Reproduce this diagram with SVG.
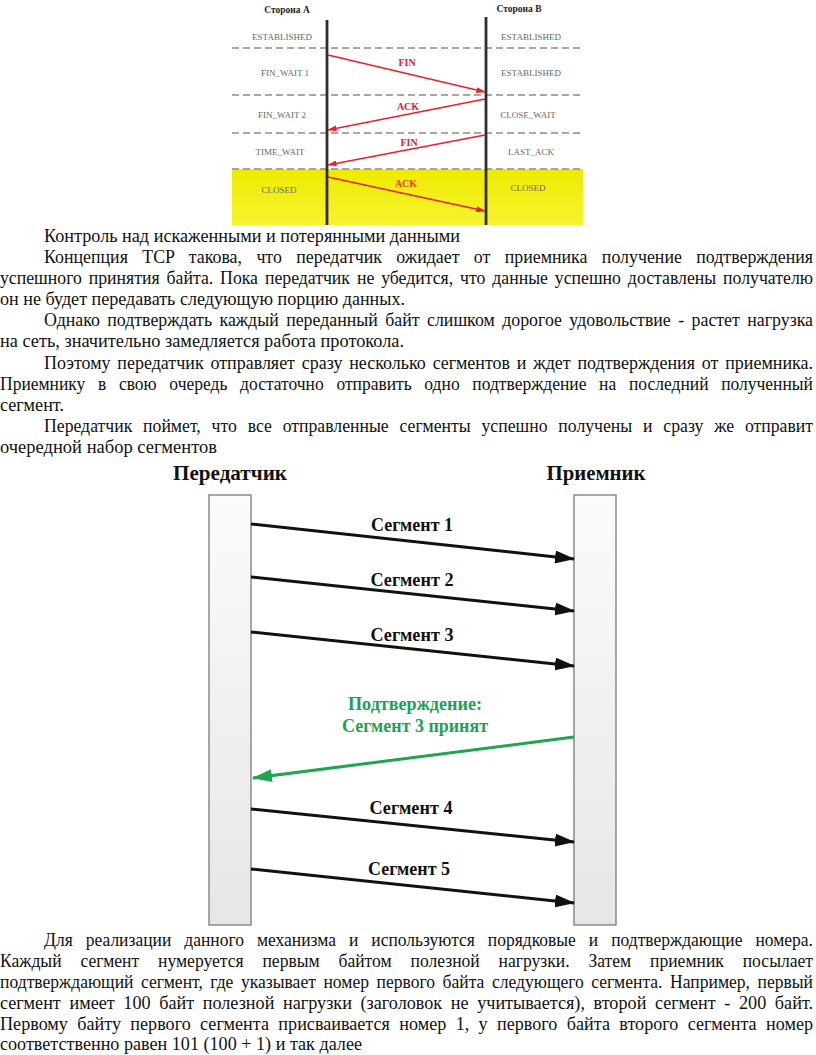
<svg xmlns="http://www.w3.org/2000/svg" width="816" height="1055" viewBox="0 0 816 1055">
<style>
.p{font-family:"Liberation Serif","Times New Roman",serif;font-size:18px;fill:#111}
.st{font-family:"Liberation Serif",serif;font-size:9px;fill:#666;text-anchor:middle}
.hd{font-family:"Liberation Serif",serif;font-size:9.5px;font-weight:bold;fill:#222;text-anchor:middle}
.rl{font-family:"Liberation Serif",serif;font-size:10px;font-weight:bold;fill:#e3202a;text-anchor:middle}
.dash{stroke:#8a8a8a;stroke-width:1.5;stroke-dasharray:7 4;fill:none}
.life{stroke:#2e2e2e;stroke-width:2.8}
.red{stroke:#e8202a;stroke-width:1.6;fill:none}
.ttl{font-family:"Liberation Serif",serif;font-size:21px;font-weight:bold;fill:#111;text-anchor:middle}
.seg{font-family:"Liberation Serif",serif;font-size:18px;font-weight:bold;fill:#111;text-anchor:middle}
.grt{font-family:"Liberation Serif",serif;font-size:18px;font-weight:bold;fill:#22a052;text-anchor:middle}
.blk{stroke:#111;stroke-width:3;fill:none}
.grn{stroke:#1fa64f;stroke-width:3;fill:none}
.box{fill:url(#boxg);stroke:#7a7a7a;stroke-width:1.3}
</style>
<defs>
<linearGradient id="boxg" x1="0" y1="0" x2="0" y2="1">
<stop offset="0" stop-color="#fbfbfb"/>
<stop offset="1" stop-color="#e6e6e6"/>
</linearGradient>
<linearGradient id="yel" x1="0" y1="0" x2="0" y2="1">
<stop offset="0" stop-color="#eeea00"/>
<stop offset="1" stop-color="#f6f330"/>
</linearGradient>
<marker id="ab" markerUnits="userSpaceOnUse" markerWidth="20" markerHeight="13" refX="19" refY="6.5" orient="auto">
<path d="M0,0 L20,6.5 L0,13 z" fill="#111"/>
</marker>
<marker id="ag" markerUnits="userSpaceOnUse" markerWidth="20" markerHeight="13" refX="19" refY="6.5" orient="auto">
<path d="M0,0 L20,6.5 L0,13 z" fill="#1fa64f"/>
</marker>
<marker id="ar" markerUnits="userSpaceOnUse" markerWidth="9" markerHeight="6" refX="8.5" refY="3" orient="auto">
<path d="M0,0 L9,3 L0,6 z" fill="#e8202a"/>
</marker>
</defs>
<rect width="816" height="1055" fill="#fff"/>

<!-- Top diagram: TCP connection termination -->
<g id="top-diagram">
<rect id="closed-zone" x="232" y="169" width="351" height="56" fill="url(#yel)"/>
<g id="dividers">
<line class="dash" x1="232" y1="48" x2="583" y2="48"/>
<line class="dash" x1="232" y1="95" x2="583" y2="95"/>
<line class="dash" x1="232" y1="133" x2="583" y2="133"/>
<line class="dash" x1="232" y1="169" x2="583" y2="169"/>
</g>
<g id="side-a">
<text class="hd" x="287" y="13">Сторона А</text>
<line class="life" x1="327" y1="20" x2="327" y2="225"/>
<text class="st" x="282" y="40">ESTABLISHED</text>
<text class="st" x="285" y="76">FIN_WAIT 1</text>
<text class="st" x="282" y="118">FIN_WAIT 2</text>
<text class="st" x="280" y="155">TIME_WAIT</text>
<text class="st" x="279" y="193">CLOSED</text>
</g>
<g id="side-b">
<text class="hd" x="519" y="12">Сторона В</text>
<line class="life" x1="486" y1="17" x2="486" y2="225"/>
<text class="st" x="531" y="40">ESTABLISHED</text>
<text class="st" x="531" y="76">ESTABLISHED</text>
<text class="st" x="528" y="118">CLOSE_WAIT</text>
<text class="st" x="531" y="155">LAST_ACK</text>
<text class="st" x="528" y="191">CLOSED</text>
</g>
<g id="top-connectors">
<line class="red" x1="328" y1="55" x2="485" y2="92" marker-end="url(#ar)"/>
<line class="red" x1="485" y1="99" x2="328" y2="130" marker-end="url(#ar)"/>
<line class="red" x1="485" y1="135" x2="328" y2="165" marker-end="url(#ar)"/>
<line class="red" x1="328" y1="177" x2="485" y2="211" marker-end="url(#ar)"/>
<text class="rl" x="407" y="66">FIN</text>
<text class="rl" x="408" y="110">ACK</text>
<text class="rl" x="409" y="146">FIN</text>
<text class="rl" x="406" y="187" style="fill:#e8401a">ACK</text>
</g>
</g>

<!-- Paragraph text -->
<g id="text-top">
<text class="p" x="44" y="242" textLength="416" lengthAdjust="spacingAndGlyphs">Контроль над искаженными и потерянными данными</text>
<text class="p" x="44" y="263" textLength="769" lengthAdjust="spacingAndGlyphs" word-spacing="10">Концепция TCP такова, что передатчик ожидает от приемника получение подтверждения</text>
<text class="p" x="0" y="284" textLength="813" lengthAdjust="spacingAndGlyphs" word-spacing="2.5">успешного принятия байта. Пока передатчик не убедится, что данные успешно доставлены получателю</text>
<text class="p" x="0" y="305" textLength="405" lengthAdjust="spacingAndGlyphs">он не будет передавать следующую порцию данных.</text>
<text class="p" x="44" y="326" textLength="769" lengthAdjust="spacingAndGlyphs" word-spacing="3">Однако подтверждать каждый переданный байт слишком дорогое удовольствие - растет нагрузка</text>
<text class="p" x="0" y="347" textLength="404" lengthAdjust="spacingAndGlyphs">на сеть, значительно замедляется работа протокола.</text>
<text class="p" x="44" y="369" textLength="769" lengthAdjust="spacingAndGlyphs" word-spacing="2.3">Поэтому передатчик отправляет сразу несколько сегментов и ждет подтверждения от приемника.</text>
<text class="p" x="0" y="390" textLength="813" lengthAdjust="spacingAndGlyphs" word-spacing="8.5">Приемнику в свою очередь достаточно отправить одно подтверждение на последний полученный</text>
<text class="p" x="0" y="411" textLength="64" lengthAdjust="spacingAndGlyphs">сегмент.</text>
<text class="p" x="44" y="432" textLength="769" lengthAdjust="spacingAndGlyphs" word-spacing="6.5">Передатчик поймет, что все отправленные сегменты успешно получены и сразу же отправит</text>
<text class="p" x="0" y="453" textLength="217" lengthAdjust="spacingAndGlyphs">очередной набор сегментов</text>
</g>

<!-- Lower sequence diagram -->
<g id="transmitter">
<text class="ttl" x="230" y="480" textLength="114" lengthAdjust="spacingAndGlyphs">Передатчик</text>
<rect class="box" x="209" y="495" width="42" height="430"/>
</g>
<g id="receiver">
<text class="ttl" x="596" y="480" textLength="99" lengthAdjust="spacingAndGlyphs">Приемник</text>
<rect class="box" x="574" y="495" width="42" height="430"/>
</g>
<g id="connectors">
<line class="blk" x1="251" y1="524" x2="574" y2="559" marker-end="url(#ab)"/>
<line class="blk" x1="251" y1="577" x2="574" y2="611" marker-end="url(#ab)"/>
<line class="blk" x1="251" y1="632" x2="574" y2="666" marker-end="url(#ab)"/>
<line class="grn" x1="574" y1="737" x2="253" y2="778" marker-end="url(#ag)"/>
<line class="blk" x1="251" y1="809" x2="574" y2="842" marker-end="url(#ab)"/>
<line class="blk" x1="251" y1="869" x2="574" y2="903" marker-end="url(#ab)"/>
<text class="seg" x="412" y="531" textLength="82" lengthAdjust="spacingAndGlyphs">Сегмент 1</text>
<text class="seg" x="412" y="586" textLength="83" lengthAdjust="spacingAndGlyphs">Сегмент 2</text>
<text class="seg" x="412" y="641" textLength="83" lengthAdjust="spacingAndGlyphs">Сегмент 3</text>
<text class="grt" x="415" y="710" textLength="134" lengthAdjust="spacingAndGlyphs">Подтверждение:</text>
<text class="grt" x="415" y="732" textLength="146" lengthAdjust="spacingAndGlyphs">Сегмент 3 принят</text>
<text class="seg" x="411" y="814" textLength="83" lengthAdjust="spacingAndGlyphs">Сегмент 4</text>
<text class="seg" x="409" y="875" textLength="82" lengthAdjust="spacingAndGlyphs">Сегмент 5</text>
</g>

<g id="text-bottom">
<text class="p" x="44" y="946" textLength="769" lengthAdjust="spacingAndGlyphs" word-spacing="8.9">Для реализации данного механизма и используются порядковые и подтверждающие номера.</text>
<text class="p" x="0" y="967" textLength="813" lengthAdjust="spacingAndGlyphs" word-spacing="14.8">Каждый сегмент нумеруется первым байтом полезной нагрузки. Затем приемник посылает</text>
<text class="p" x="0" y="988" textLength="813" lengthAdjust="spacingAndGlyphs" word-spacing="3.2">подтверждающий сегмент, где указывает номер первого байта следующего сегмента. Например, первый</text>
<text class="p" x="0" y="1009" textLength="813" lengthAdjust="spacingAndGlyphs" word-spacing="4">сегмент имеет 100 байт полезной нагрузки (заголовок не учитывается), второй сегмент - 200 байт.</text>
<text class="p" x="0" y="1030" textLength="813" lengthAdjust="spacingAndGlyphs" word-spacing="4.8">Первому байту первого сегмента присваивается номер 1, у первого байта второго сегмента номер</text>
<text class="p" x="0" y="1050" textLength="362" lengthAdjust="spacingAndGlyphs">соответственно равен 101 (100 + 1) и так далее</text>
</g>
</svg>
